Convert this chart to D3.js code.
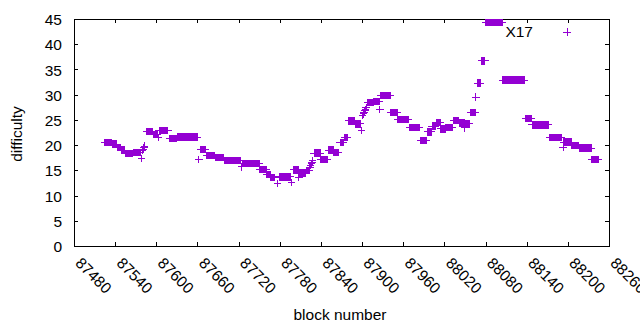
<!DOCTYPE html>
<html>
<head>
<meta charset="utf-8">
<script src="https://cdn.jsdelivr.net/npm/d3@7/dist/d3.min.js"></script>
<style>
  body { margin: 0; background: #fff; }
  svg { display: block; }
  text { font-family: "Liberation Sans", Arial, sans-serif; font-size: 15.5px; fill: #000; }
</style>
</head>
<body>
<div id="chart"></div>
<script>
'use strict';

////////// Data //////////
// runs of consecutive blocks that share one difficulty value
const runStart = [87525, 87536, 87543, 87549, 87555, 87567, 87586, 87596, 87604, 87619, 87631, 87664, 87673, 87686, 87699,
	87725, 87751, 87761, 87767, 87779, 87800, 87809, 87819, 87830, 87840, 87851, 87859, 87868, 87875, 87880, 87890,
	87908, 87917, 87927, 87942, 87952, 87969, 87985, 87995, 88002, 88008, 88015, 88022, 88033, 88042, 88051, 88058,
	88068, 88074, 88080, 88105, 88138, 88148, 88173, 88194, 88206, 88217, 88235];
const runEnd = [87535, 87542, 87548, 87554, 87566, 87577, 87595, 87602, 87617, 87630, 87660, 87672, 87685, 87698, 87723,
	87750, 87760, 87766, 87773, 87796, 87807, 87818, 87823, 87839, 87849, 87858, 87866, 87873, 87879, 87889, 87898,
	87916, 87925, 87941, 87951, 87968, 87984, 87994, 88001, 88007, 88014, 88021, 88032, 88041, 88049, 88057, 88065,
	88072, 88079, 88104, 88137, 88147, 88172, 88191, 88205, 88216, 88234, 88245];
const runValue = [20.5, 20.2, 19.5, 19.0, 18.3, 18.5, 22.7, 22.1, 22.9, 21.3, 21.6, 19.1, 18.0, 17.6, 16.9,
	16.4, 15.2, 14.2, 13.6, 13.7, 15.1, 14.5, 15.0, 18.4, 17.2, 19.0, 18.5, 20.5, 21.5, 24.8, 24.2,
	28.4, 28.7, 29.8, 26.5, 25.1, 23.5, 20.9, 22.6, 23.7, 24.5, 23.2, 23.5, 24.9, 24.4, 24.2, 26.5,
	32.3, 36.7, 44.3, 32.9, 25.3, 24.0, 21.5, 20.6, 19.9, 19.4, 17.2];
// blocks standing on their own
const singleBlock = [87578, 87580, 87581, 87582, 87583, 87603, 87662, 87724, 87777, 87797, 87808, 87824, 87825, 87826,
	87827, 87828, 87899, 87901, 87902, 87903, 87904, 87905, 87906, 87926, 88050, 88066, 88193];
const singleValue = [17.3, 18.9, 19.2, 19.5, 19.8, 21.5, 17.2, 15.7, 12.4, 12.6, 13.6, 15.6, 16.0, 16.4,
	16.6, 16.9, 22.9, 25.9, 26.2, 26.5, 26.8, 27.1, 27.5, 27.1, 23.4, 29.5, 19.5];

const xTicks = [87480, 87540, 87600, 87660, 87720, 87780, 87840, 87900, 87960, 88020, 88080, 88140, 88200, 88260];
const yTicks = [0, 5, 10, 15, 20, 25, 30, 35, 40, 45];
const seriesName = 'X17';
const xLabel = 'block number';
const yLabel = 'difficulty';

////////// Layout //////////
const width = 640, height = 330;
const plot = { left: 74, right: 609, top: 19, bottom: 246 };
const markColor = '#9400d3';
const crossHalf = 3.7;
const tickLen = 4;

const points = runStart.flatMap((s, i) => d3.range(s, runEnd[i] + 1).map(b => ({ block: b, value: runValue[i] })))
	.concat(singleBlock.map((b, i) => ({ block: b, value: singleValue[i] })))
	.sort((a, b) => a.block - b.block);

const x = d3.scaleLinear().domain([xTicks[0], xTicks[xTicks.length - 1]]).range([plot.left, plot.right]);
const y = d3.scaleLinear().domain([yTicks[0], yTicks[yTicks.length - 1]]).range([plot.bottom, plot.top]);

const crossPath = (cx, cy) => `M${cx - crossHalf},${cy}H${cx + crossHalf}M${cx},${cy - crossHalf}V${cy + crossHalf}`;

const svg = d3.select('#chart').append('svg')
	.attr('width', width)
	.attr('height', height)
	.style('background', '#fff');

////////// Axes (ticks point inward on all four sides) //////////
const bottomAxis = svg.append('g')
	.attr('transform', `translate(0,${plot.bottom})`)
	.call(d3.axisBottom(x).tickValues(xTicks).tickFormat(d3.format('d')).tickSizeInner(-tickLen).tickSizeOuter(0));
bottomAxis.selectAll('.tick text')
	.attr('x', 0).attr('y', 0).attr('dy', null)
	.attr('text-anchor', 'start')
	.attr('transform', 'translate(0,18) rotate(45)');

const leftAxis = svg.append('g')
	.attr('transform', `translate(${plot.left},0)`)
	.call(d3.axisLeft(y).tickValues(yTicks).tickFormat(d3.format('d')).tickSizeInner(-tickLen).tickSizeOuter(0));
leftAxis.selectAll('.tick text').attr('x', -12).attr('dy', '0.36em');

svg.append('g')
	.attr('transform', `translate(0,${plot.top})`)
	.call(d3.axisTop(x).tickValues(xTicks).tickSizeInner(-tickLen).tickSizeOuter(0).tickFormat(''));
svg.append('g')
	.attr('transform', `translate(${plot.right},0)`)
	.call(d3.axisRight(y).tickValues(yTicks).tickSizeInner(-tickLen).tickSizeOuter(0).tickFormat(''));

svg.selectAll('.domain').remove();
svg.selectAll('.tick line').attr('stroke', '#000').attr('shape-rendering', 'crispEdges');
svg.selectAll('.tick text').attr('font-size', null).attr('font-family', null).attr('fill', '#000');

svg.append('rect')
	.attr('x', plot.left + 0.5).attr('y', plot.top + 0.5)
	.attr('width', plot.right - plot.left).attr('height', plot.bottom - plot.top)
	.attr('fill', 'none').attr('stroke', '#000').attr('shape-rendering', 'crispEdges');

////////// Points //////////
svg.append('g')
	.attr('stroke', markColor)
	.attr('stroke-width', 1)
	.attr('fill', 'none')
	.attr('shape-rendering', 'crispEdges')
	.selectAll('path')
	.data(points)
	.join('path')
	.attr('d', d => crossPath(x(d.block), y(d.value)));

////////// Labels and key //////////
svg.append('text')
	.attr('x', 340).attr('y', 320)
	.attr('text-anchor', 'middle')
	.text(xLabel);

svg.append('text')
	.attr('transform', 'translate(22,134) rotate(-90)')
	.attr('text-anchor', 'middle')
	.text(yLabel);

svg.append('text')
	.attr('x', 533).attr('y', 37)
	.attr('text-anchor', 'end')
	.text(seriesName);
svg.append('path')
	.attr('d', crossPath(567, 32))
	.attr('stroke', markColor)
	.attr('shape-rendering', 'crispEdges');
</script>
</body>
</html>
